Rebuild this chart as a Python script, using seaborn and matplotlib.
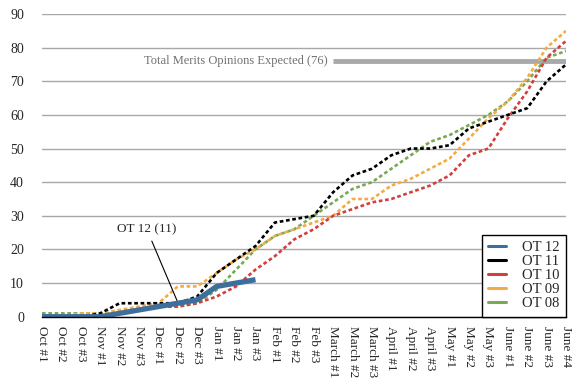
#!/usr/bin/env python3

import matplotlib
matplotlib.use("Agg")
import matplotlib.pyplot as plt
from matplotlib.lines import Line2D
import seaborn as sns
import numpy as np

# periods along the term
periods = ["Oct #1", "Oct #2", "Oct #3", "Nov #1", "Nov #2", "Nov #3",
           "Dec #1", "Dec #2", "Dec #3", "Jan #1", "Jan #2", "Jan #3",
           "Feb #1", "Feb #2", "Feb #3", "March #1", "March #2", "March #3",
           "April #1", "April #2", "April #3", "May #1", "May #2", "May #3",
           "June #1", "June #2", "June #3", "June #4"]

# cumulative merits opinions per term
ot12 = [0, 0, 0, 0, 1, 2, 3, 4, 5, 9, 10, 11]
ot11 = [0, 0, 0, 1, 4, 4, 4, 4, 6, 13, 17, 21, 28, 29, 30, 37, 42, 44,
        48, 50, 50, 51, 56, 58, 60, 62, 70, 75]
ot10 = [0, 0, 0, 0, 1, 2, 3, 3, 4, 6, 9, 14, 18, 23, 26, 30, 32, 34,
        35, 37, 39, 42, 48, 50, 59, 67, 77, 82]
ot09 = [0, 0, 1, 1, 2, 3, 4, 9, 9, 13, 17, 20, 24, 26, 28, 30, 35, 35,
        39, 41, 44, 47, 53, 59, 64, 71, 80, 85]
ot08 = [1, 1, 1, 1, 1, 2, 3, 3, 4, 8, 14, 20, 24, 26, 30, 34, 38, 40,
        44, 48, 52, 54, 57, 60, 64, 70, 77, 79]

expected = 76
expected_start = "March #1"

sns.set_style("white")
plt.rcParams['font.family'] = ['Liberation Serif', 'DejaVu Serif']

fig = plt.figure(figsize=(5.8, 3.9), dpi=100)
ax = fig.add_axes([0.0724, 0.188, 0.9035, 0.776])

dash = (0, (1.4, 1.0))
series = [
    ("OT 08", ot08, "#79a955"),
    ("OT 09", ot09, "#f3ab45"),
    ("OT 10", ot10, "#d2403e"),
    ("OT 11", ot11, "#000000"),
]
for name, vals, col in series:
    sns.lineplot(x=np.arange(len(vals)), y=vals, ax=ax, color=col,
                 linewidth=1.9, linestyle=dash, zorder=3)

blue = "#3e6e9c"
sns.lineplot(x=np.arange(len(ot12)), y=ot12, ax=ax, color=blue,
             linewidth=3.8, zorder=5, solid_capstyle="butt")

# expected total line
x0 = periods.index(expected_start)
ax.hlines(expected, x0, len(periods) - 1, color="#a9a9a9", linewidth=3.5, zorder=2)
ax.text(x0 - 0.3, expected, "Total Merits Opinions Expected (%d)" % expected,
        ha="right", va="center", color="#707070", fontsize=9)

ax.annotate("OT 12 (%d)" % ot12[-1], xy=(7, ot12[7] + 0.2), xytext=(5.4, 26),
            ha="center", va="center", fontsize=9.5,
            arrowprops=dict(arrowstyle="-", color="black", lw=0.8,
                            shrinkA=2, shrinkB=0))

ax.set_xlim(0, len(periods) - 1)
ax.set_ylim(0, 90)
ax.set_xticks(np.arange(len(periods)))
ax.set_xticklabels(periods, rotation=-90, fontsize=9.5, va="top", ha="center")
ax.set_yticks(np.arange(0, 91, 10))
ax.tick_params(axis="y", length=0, pad=13, labelsize=10)
ax.tick_params(axis="x", direction="out", length=4, width=1, color="black", pad=3)
ax.yaxis.grid(True, color="#a8a8a8", linewidth=1)
ax.xaxis.grid(False)
ax.set_axisbelow(True)
for s in ["left", "top", "right"]:
    ax.spines[s].set_visible(False)
ax.spines["bottom"].set_color("black")
ax.spines["bottom"].set_linewidth(1)
ax.spines["bottom"].set_zorder(6)
ax.set_xlabel("")
ax.set_ylabel("")

handles = [Line2D([], [], color=blue, lw=2.2),
           Line2D([], [], color="#000000", lw=2.2),
           Line2D([], [], color="#d2403e", lw=2.2),
           Line2D([], [], color="#f3ab45", lw=2.2),
           Line2D([], [], color="#79a955", lw=2.2)]
leg = ax.legend(handles, ["OT 12", "OT 11", "OT 10", "OT 09", "OT 08"],
                loc="lower right", bbox_to_anchor=(1.0, 0.0), fontsize=10.5,
                frameon=True, fancybox=False, framealpha=1, edgecolor="black",
                borderpad=0.45, labelspacing=0.05, handlelength=1.2,
                handletextpad=1.1, borderaxespad=0.0)
leg.get_frame().set_linewidth(1)
leg.set_zorder(10)

fig.savefig("out.png", dpi=100)
plt.close(fig)
